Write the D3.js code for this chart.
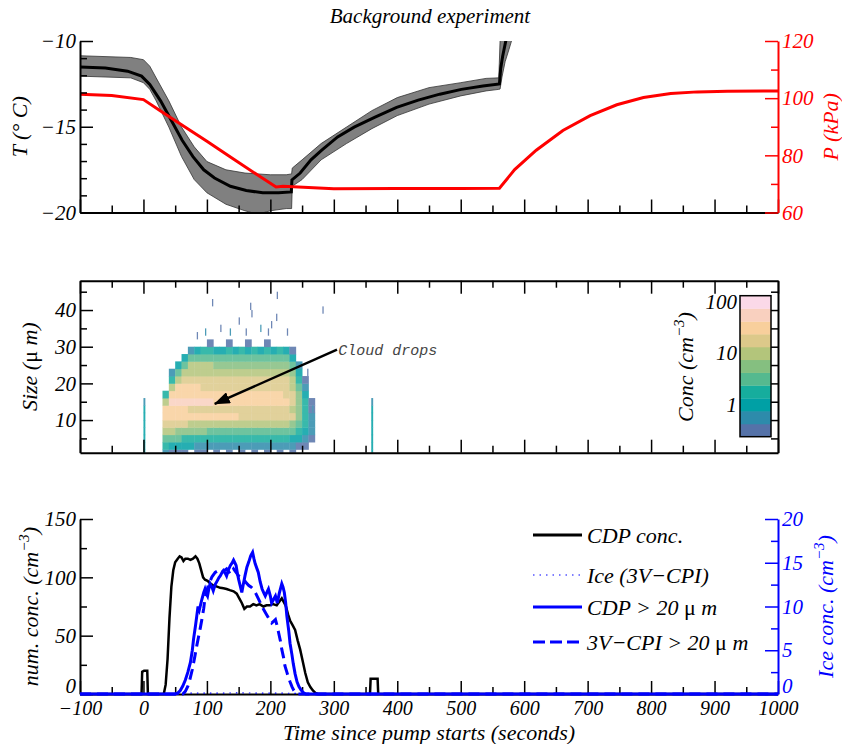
<!DOCTYPE html>
<meta charset="utf-8">
<style>
    body { margin: 0; background: #fff; }
    svg text { font-family: "Liberation Serif", "Times New Roman", serif; font-style: italic; }
    .mono { font-family: "Liberation Mono", "DejaVu Sans Mono", monospace; }
</style>
<svg width="842" height="744"></svg>
<script src="https://cdn.jsdelivr.net/npm/d3@7"></script>
<script>

    // ---- top panel: temperature (mean and spread) and pressure
    var tTime = [-100, -60, -25, -3, 10, 27, 44, 61, 78, 95, 112, 137, 162, 188, 213, 233, 234, 247, 264, 281, 306, 332, 365, 399, 433, 467, 501, 535, 561, 563, 566, 571, 578];
    var tMean = [-11.51, -11.57, -11.76, -12.05, -12.53, -13.49, -14.64, -15.79, -16.74, -17.51, -17.99, -18.47, -18.72, -18.85, -18.85, -18.8, -18.1, -17.7, -16.93, -16.36, -15.59, -15.02, -14.44, -13.87, -13.45, -13.1, -12.82, -12.62, -12.5, -11.6, -10.9, -10.0, -9.2];

    var bandTime = [-100, -20, 0, 10, 20, 40, 60, 80, 100, 130, 160, 180, 200, 225, 233.5, 234.5, 250, 280, 320, 360, 400, 450, 500, 540, 560, 562, 565, 570, 576, 580, 585];
    var bandHigh = [-10.86, -10.96, -11.09, -11.47, -12.15, -13.49, -15.02, -16.17, -17.03, -17.51, -17.7, -17.75, -17.8, -17.8, -17.75, -17.41, -16.93, -15.98, -15.02, -14.06, -13.3, -12.72, -12.43, -12.18, -12.15, -10.0, -9.5, -9.0, -8.5, -8.3, -8.0];
    var bandLow  = [-12.05, -12.15, -12.43, -12.82, -13.49, -15.02, -16.74, -18.08, -18.85, -19.52, -19.9, -20.1, -19.9, -19.77, -19.77, -18.47, -18.08, -16.93, -15.98, -15.11, -14.35, -13.68, -13.2, -12.91, -12.82, -12.8, -12.1, -11.2, -10.5, -10.0, -9.5];

    var pTime = [-100, -50, 0, 27, 60, 100, 140, 180, 209, 220, 300, 400, 500, 561, 585, 619, 661, 704, 746, 788, 831, 873, 920, 1000];
    var pValue = [101.4, 100.9, 99.5, 95.5, 90.7, 84.9, 79.0, 73.1, 68.9, 69.2, 68.3, 68.4, 68.4, 68.5, 75.0, 81.8, 88.7, 93.9, 97.7, 100.2, 101.6, 102.2, 102.4, 102.5];

    // ---- middle panel: CDP size distribution (cm^-3), 10 s columns x 2 um bins
    var sizeEdges = [1.1, 2, 4, 6, 8, 10, 12, 14, 16, 18, 20, 22, 24, 26, 28, 30, 32];
    var colTime = [30, 40, 50, 60, 70, 80, 90, 100, 110, 120, 130, 140, 150, 160, 170, 180, 190, 200, 210, 220, 230, 240, 250, 260];
    var sizeDist = [
        [0.5, 2, 4, 10, 18, 30, 25, 12, 2, 0, 0, 0, 0, 0, 0, 0],
        [0.3, 1, 3, 8, 18, 35, 28, 55, 25, 8, 2, 0.5, 0, 0, 0, 0],
        [0.3, 1, 3, 6, 15, 35, 25, 60, 35, 25, 12, 4, 1, 0, 0, 0],
        [0.3, 0.8, 2, 5, 14, 35, 25, 55, 35, 25, 18, 10, 4, 1, 0, 0],
        [0, 0.8, 2, 5, 12, 32, 22, 55, 32, 25, 18, 12, 8, 2.5, 0.6, 0],
        [0.3, 0.6, 2, 5, 12, 30, 20, 50, 30, 24, 18, 12, 8, 3, 1.2, 0],
        [0.3, 0.6, 2, 5, 12, 30, 20, 45, 30, 22, 17, 12, 8, 3, 1.5, 0],
        [0, 0.5, 2, 4, 10, 28, 20, 42, 28, 22, 16, 11, 8, 3, 1.5, 0.3],
        [0.3, 0.5, 1.5, 4, 10, 26, 18, 38, 28, 20, 16, 11, 7, 3, 1.2, 0],
        [0, 0.5, 1.5, 4, 9, 25, 18, 35, 26, 20, 15, 11, 7, 3, 1.2, 0],
        [0.3, 0.5, 1.5, 3.5, 9, 24, 17, 33, 26, 20, 15, 10, 7, 3, 1.5, 0.3],
        [0, 0.5, 1.5, 3.5, 9, 24, 17, 32, 25, 20, 15, 10, 7, 3, 1.2, 0],
        [0.3, 0.5, 1.5, 3.5, 9, 23, 17, 30, 25, 19, 15, 10, 7, 3, 1.5, 0],
        [0, 0.5, 1.5, 3, 8, 22, 16, 30, 24, 19, 14, 10, 7, 3, 1.2, 0.3],
        [0.3, 0.5, 1.5, 3, 8, 22, 16, 30, 25, 20, 15, 10, 7, 3, 1.5, 0],
        [0, 0.5, 1.5, 3, 8, 22, 16, 30, 25, 20, 15, 11, 7, 3, 1.2, 0],
        [0.3, 0.5, 1.5, 3, 8, 22, 16, 28, 24, 20, 15, 11, 7, 3, 1.5, 0.3],
        [0, 0.5, 1.5, 3, 8, 22, 16, 28, 24, 20, 15, 11, 7, 3, 1.2, 0],
        [0.3, 0.5, 1.5, 3, 8, 22, 16, 28, 25, 20, 16, 11, 7, 3, 1.5, 0],
        [0, 0.5, 1.5, 3, 8, 20, 15, 26, 22, 18, 14, 10, 6, 2.5, 1, 0],
        [0.3, 0.5, 1, 2.5, 6, 14, 10, 16, 14, 11, 8, 5, 3, 1, 0.4, 0],
        [0, 0.4, 0.8, 1.5, 3, 6, 5, 7, 5, 4, 2, 1, 0.5, 0, 0, 0],
        [0, 0.3, 0.6, 1, 1.5, 2, 1.5, 2, 1, 0.6, 0.4, 0, 0, 0, 0, 0],
        [0, 0, 0.4, 0.5, 0.6, 0.5, 0.4, 0.3, 0, 0, 0, 0, 0, 0, 0, 0]
    ];
    // short bursts at the two blips (3 s wide), bins from the bottom
    var blipTime = [0, 359];
    var blipDist = [0.8, 1, 1, 1, 1, 0.8, 0.8, 0.5];
    // isolated single counts (2 s x 2 um)
    var sparseTime = [84, 97, 108, 121, 136, 150, 161, 168, 170, 184, 196, 201, 209, 210, 226, 282, 258, 266];
    var sparseSize = [32, 33, 41, 34, 33, 36, 33, 40, 38, 34, 33, 35, 37, 43, 33, 39, 22, 12];
    var sparseConc = [0.3, 0.5, 0.3, 0.3, 0.5, 0.3, 0.4, 0.3, 0.3, 0.5, 0.3, 0.4, 0.3, 0.3, 0.3, 0.3, 0.4, 0.5];

    var concLevels = [0.237, 0.42, 0.75, 1.33, 2.37, 4.2, 7.5, 13.3, 23.7, 42, 75, 133];
    var concColors = ["#5572a8", "#2d8bab", "#00a0a5", "#16ad9d", "#55b98f", "#85bf80", "#b3c57b", "#dcc98a", "#f8cf9c", "#f9d0bf", "#fbd9e8"];
    var concTicks = [1, 10, 100];

    // ---- bottom panel: number concentrations
    var cdpTime = [-100, -3, -2, 1, 6, 7, 32, 35, 38, 41, 44, 47, 50, 54, 57, 60, 63, 66, 70, 74, 78, 82, 85, 88, 91, 94, 97, 101, 105, 110, 116, 121, 126, 131, 136, 142, 147, 151, 155, 159, 163, 168, 173, 178, 183, 189, 194, 199, 204, 210, 214, 218, 221, 224, 228, 231, 235, 239, 243, 247, 251, 255, 259, 263, 267, 271, 275, 357, 358, 369, 370, 1000];
    var cdpConc = [0, 0, 19, 20, 20, 0, 0, 8, 30, 65, 92, 106, 113, 116, 118, 117, 114, 116, 116, 115, 116, 118, 116, 112, 106, 100, 98, 97, 95, 93, 92, 91, 90.6, 90, 89, 88, 86, 82, 78, 73, 75, 75, 77, 76, 77, 75, 76, 76, 77, 76, 79, 82, 79, 76, 68, 63, 59, 55, 46, 38, 28, 18, 10, 6, 3, 1, 0, 0, 13, 13, 0, 0];

    var cdp20Time = [-100, 50, 54, 58, 62, 66, 70, 74, 77, 79, 82, 84, 86, 88, 90, 92, 95, 97, 99, 101, 103, 105, 108, 110, 113, 116, 119, 121, 124, 126, 129, 131, 134, 137, 140, 142, 144, 146, 148, 150, 153, 155, 157, 160, 163, 166, 169, 172, 174, 176, 179, 181, 184, 187, 190, 192, 195, 197, 200, 202, 205, 208, 211, 214, 218, 220, 222, 224, 226, 229, 231, 234, 236, 239, 242, 245, 248, 252, 256, 1000];
    var cdp20Conc = [0, 0, 0.1, 0.4, 0.9, 1.6, 2.5, 3.6, 5, 6.3, 7.8, 8.9, 10, 9.6, 10.2, 10.8, 11.6, 12, 11.5, 11.2, 12, 12.6, 12.2, 11.8, 12.5, 12.9, 13.3, 13.5, 13.9, 14.1, 13.8, 13.5, 14.2, 14.7, 15.0, 15.3, 15.0, 14.7, 13.8, 13.1, 12.2, 11.6, 12.4, 13.5, 14.5, 15.1, 15.8, 16.2, 15.5, 14.9, 14.3, 13.9, 12.8, 12, 11.5, 11.2, 11.7, 12, 11.2, 10.4, 10.8, 11.2, 10.4, 11.5, 12.6, 12.2, 11.6, 10.5, 8.9, 7.2, 5.8, 4.5, 3.5, 2.3, 1.4, 0.84, 0.5, 0.15, 0, 0];

    var cpi20Time = [-100, 62, 66, 70, 73, 77, 81, 84, 87, 90, 92, 95, 97, 100, 102, 105, 108, 113, 118, 123, 127, 131, 134, 137, 142, 146, 150, 154, 158, 162, 166, 170, 173, 177, 181, 185, 189, 193, 197, 200, 202, 205, 208, 211, 213, 216, 218, 221, 223, 226, 228, 231, 234, 237, 240, 244, 1000];
    var cpi20Conc = [0, 0, 0.3, 0.9, 1.6, 2.8, 4.3, 5.5, 6.6, 7.7, 8.5, 9.8, 11, 11.8, 12.4, 12.9, 13.4, 13.9, 14.1, 13.9, 14.1, 14.3, 14.0, 13.7, 14.3, 13.9, 13.5, 13.3, 13.1, 12.7, 12.4, 12.2, 12.0, 11.5, 10.9, 10.3, 9.7, 9.2, 8.7, 8.3, 8.1, 8.3, 8.5, 7.7, 7.0, 6.0, 5.1, 4.1, 3.2, 2.5, 2.0, 1.4, 0.84, 0.4, 0.1, 0, 0];

    var iceTime = [-100, 60, 65, 100, 150, 200, 240, 248, 1000];
    var iceConc = [0, 0, 0.1, 0.1, 0.12, 0.1, 0.08, 0, 0];

    var legendLabels = ["CDP conc.", "Ice (3V\u2212CPI)", "CDP > 20 ", "3V\u2212CPI > 20 "];

    var timeMajor = d3.range(-100, 1001, 100),
        timeMinor = d3.range(-50, 1000, 100);

    // ---------------------------------------------------------------
    var svg = d3.select("svg"),
        left = 80, right = 778,
        top1 = 41, bot1 = 212.5,
        top2 = 280.7, bot2 = 452.7,
        top3 = 519, bot3 = 694;

    var x = d3.scaleLinear().domain([-100, 1000]).range([left, right]);
    var yT = d3.scaleLinear().domain([-20, -10]).range([bot1, top1]),
        yP = d3.scaleLinear().domain([60, 120]).range([bot1, top1]),
        yS = d3.scaleLinear().domain([1.1, 48]).range([bot2, top2]),
        yN = d3.scaleLinear().domain([0, 150]).range([bot3, top3]),
        yI = d3.scaleLinear().domain([0, 20]).range([bot3, top3]),
        yC = d3.scaleLog().domain([concLevels[0], concLevels[concLevels.length - 1]]).range([436.7, 295.7]);

    var colour = d3.scaleThreshold().domain(concLevels.slice(1, -1)).range(concColors);

    var defs = svg.append("defs");
    function clip(id, y0, y1) {
        defs.append("clipPath").attr("id", id).append("rect")
            .attr("x", left).attr("y", y0).attr("width", right - left).attr("height", y1 - y0);
        return "url(#" + id + ")";
    }
    defs.append("marker").attr("id", "head")
        .attr("markerUnits", "userSpaceOnUse")
        .attr("markerWidth", 16).attr("markerHeight", 12)
        .attr("refX", 15).attr("refY", 6).attr("orient", "auto")
        .append("path").attr("d", "M0,0L16,6L0,12z").attr("fill", "#000");

    // major + minor ticks pointing inward, labels outside
    function drawAxis(tr, gen, scale, major, minor, fmt, color, pad, fs) {
        var g = svg.append("g").attr("transform", tr);
        var gm = g.append("g").call(gen(scale).tickValues(minor).tickSizeInner(-7).tickSizeOuter(0).tickFormat(""));
        gm.select(".domain").remove();
        g.append("g").call(gen(scale).tickValues(major).tickSizeInner(-13).tickSizeOuter(0).tickPadding(pad || 4).tickFormat(fmt));
        g.selectAll("line").attr("stroke", color).attr("stroke-width", 1.5);
        g.selectAll(".domain").attr("stroke", color).attr("stroke-width", 2);
        g.selectAll("text").attr("fill", color).style("font-size", (fs || 21) + "px");
        return g;
    }
    var none = function () { return ""; },
        num = d3.format("d");

    function label(txt, xx, yy, rot, color, size) {
        return svg.append("text")
            .attr("transform", "translate(" + xx + "," + yy + ")" + (rot ? " rotate(-90)" : ""))
            .attr("text-anchor", "middle")
            .attr("fill", color || "#000")
            .style("font-size", (size || 22) + "px")
            .text(txt);
    }
    function sup(t, s) {
        t.append("tspan").attr("dy", -9).style("font-size", "15px").text(s);
        t.append("tspan").attr("dy", 9).text(")");
    }

    // ---- title
    label("Background experiment", 430, 23, false, "#000", 21);

    // ---- top panel
    var p1 = svg.append("g").attr("clip-path", clip("c1", top1, bot1));
    p1.append("path")
        .datum(bandTime.map(function (t, i) { return {t: t, lo: bandLow[i], hi: bandHigh[i]}; }))
        .attr("d", d3.area().x(function (d) { return x(d.t); })
            .y0(function (d) { return yT(d.lo); }).y1(function (d) { return yT(d.hi); }))
        .attr("fill", "#808080").attr("stroke", "#333").attr("stroke-width", 0.8);
    p1.append("path")
        .datum(tTime.map(function (t, i) { return [t, tMean[i]]; }))
        .attr("d", d3.line().x(function (d) { return x(d[0]); }).y(function (d) { return yT(d[1]); }))
        .attr("fill", "none").attr("stroke", "#000").attr("stroke-width", 3);
    p1.append("path")
        .datum(pTime.map(function (t, i) { return [t, pValue[i]]; }))
        .attr("d", d3.line().x(function (d) { return x(d[0]); }).y(function (d) { return yP(d[1]); }))
        .attr("fill", "none").attr("stroke", "#ff0000").attr("stroke-width", 3);

    drawAxis("translate(0," + bot1 + ")", d3.axisBottom, x, timeMajor, timeMinor, none, "#000");
    drawAxis("translate(" + left + ",0)", d3.axisLeft, yT, [-20, -15, -10], [-19, -18, -17, -16, -14, -13, -12, -11], num, "#000");
    drawAxis("translate(" + right + ",0)", d3.axisRight, yP, [60, 80, 100, 120], [70, 90, 110], num, "#ff0000");
    label("T (\u00b0 C)", 27, (top1 + bot1) / 2, true);
    label("P (kPa)", 838, (top1 + bot1) / 2, true, "#ff0000");

    // ---- middle panel
    var p2 = svg.append("g").attr("clip-path", clip("c2", top2, bot2)).attr("opacity", 0.85);
    colTime.forEach(function (t0, i) {
        sizeDist[i].forEach(function (v, j) {
            if (v <= 0) return;
            p2.append("rect")
                .attr("x", x(t0)).attr("width", x(t0 + 10) - x(t0) + 0.4)
                .attr("y", yS(sizeEdges[j + 1])).attr("height", yS(sizeEdges[j]) - yS(sizeEdges[j + 1]) + 0.4)
                .attr("fill", colour(v));
        });
    });
    blipTime.forEach(function (t0) {
        blipDist.forEach(function (v, j) {
            p2.append("rect")
                .attr("x", x(t0)).attr("width", x(t0 + 3) - x(t0))
                .attr("y", yS(sizeEdges[j + 1])).attr("height", yS(sizeEdges[j]) - yS(sizeEdges[j + 1]) + 0.4)
                .attr("fill", colour(v));
        });
    });
    sparseTime.forEach(function (t0, i) {
        p2.append("rect")
            .attr("x", x(t0)).attr("width", x(t0 + 2) - x(t0))
            .attr("y", yS(sparseSize[i] + 2)).attr("height", yS(sparseSize[i]) - yS(sparseSize[i] + 2))
            .attr("fill", colour(sparseConc[i]));
    });

    // annotation
    svg.append("line")
        .attr("x1", x(305)).attr("y1", yS(29.2))
        .attr("x2", x(112.4)).attr("y2", yS(14.4))
        .attr("stroke", "#000").attr("stroke-width", 2.5)
        .attr("marker-end", "url(#head)");
    svg.append("text").attr("class", "mono")
        .attr("x", x(307)).attr("y", yS(29.2) + 5)
        .style("font-size", "15px").attr("fill", "#444")
        .text("Cloud drops");

    drawAxis("translate(0," + bot2 + ")", d3.axisBottom, x, timeMajor, timeMinor, none, "#000");
    drawAxis("translate(0," + top2 + ")", d3.axisTop, x, timeMajor, timeMinor, none, "#000");
    drawAxis("translate(" + left + ",0)", d3.axisLeft, yS, [10, 20, 30, 40], [5, 15, 25, 35, 45], num, "#000");
    drawAxis("translate(" + right + ",0)", d3.axisRight, yS, [10, 20, 30, 40], [5, 15, 25, 35, 45], none, "#000");
    var sl = label("Size (", 37, (top2 + bot2) / 2, true);
    sl.append("tspan").style("font-style", "normal").text("\u03bc");
    sl.append("tspan").text(" m)");

    // colour bar
    var cb = svg.append("g");
    concColors.forEach(function (col, i) {
        cb.append("rect")
            .attr("x", 740).attr("width", 31)
            .attr("y", yC(concLevels[i + 1])).attr("height", yC(concLevels[i]) - yC(concLevels[i + 1]) + 0.3)
            .attr("fill", col);
    });
    cb.append("rect").attr("x", 740).attr("width", 31)
        .attr("y", yC.range()[1]).attr("height", yC.range()[0] - yC.range()[1])
        .attr("fill", "none").attr("stroke", "#000").attr("stroke-width", 1.5);
    cb.selectAll(".ct").data(concTicks).enter().append("text")
        .attr("x", 737).attr("y", function (d) { return yC(d) + 7; })
        .attr("text-anchor", "end").style("font-size", "21px")
        .text(function (d) { return d; });
    sup(label("Conc (cm", 693, 367, true), "\u22123");

    // ---- bottom panel
    drawAxis("translate(0," + bot3 + ")", d3.axisBottom, x, timeMajor, timeMinor, num, "#000", 7, 20);
    var axN = drawAxis("translate(" + left + ",0)", d3.axisLeft, yN, [0, 50, 100, 150], [25, 75, 125], num, "#000");
    var axI = drawAxis("translate(" + right + ",0)", d3.axisRight, yI, [0, 5, 10, 15, 20], [2.5, 7.5, 12.5, 17.5], num, "#0000ff");
    // lift the zero labels a little so they sit clear of the corner time labels
    [axN, axI].forEach(function (a) {
        a.selectAll(".tick text").filter(function (d) { return d === 0; }).attr("dy", "-0.05em");
    });

    var p3 = svg.append("g").attr("clip-path", clip("c3", top3 - 4, bot3 + 4));
    function series(tArr, vArr, scale, color, w, dash) {
        p3.append("path")
            .datum(tArr.map(function (t, i) { return [t, vArr[i]]; }))
            .attr("d", d3.line().x(function (d) { return x(d[0]); }).y(function (d) { return scale(d[1]); }))
            .attr("fill", "none").attr("stroke", color).attr("stroke-width", w)
            .attr("stroke-dasharray", dash);
    }
    series(cdpTime, cdpConc, yN, "#000", 2.5, null);
    series(iceTime, iceConc, yI, "#0000ff", 1.2, "1.5,5");
    series(cpi20Time, cpi20Conc, yI, "#0000ff", 3, "11,6");
    series(cdp20Time, cdp20Conc, yI, "#0000ff", 3, null);

    sup(label("num. conc. (cm", 38, (top3 + bot3) / 2, true), "\u22123");
    sup(label("Ice conc. (cm", 833, (top3 + bot3) / 2, true, "#0000ff"), "\u22123");
    label("Time since pump starts (seconds)", 429, 740);

    // legend
    var legendY = [535, 575, 607, 642],
        legendStroke = ["#000", "#0000ff", "#0000ff", "#0000ff"],
        legendWidth = [3, 1.2, 3, 3],
        legendDash = [null, "1.5,5", null, "12,5"];
    legendLabels.forEach(function (lab, i) {
        svg.append("line")
            .attr("x1", 533).attr("x2", 582).attr("y1", legendY[i]).attr("y2", legendY[i])
            .attr("stroke", legendStroke[i]).attr("stroke-width", legendWidth[i])
            .attr("stroke-dasharray", legendDash[i]);
        var t = svg.append("text").attr("x", 587).attr("y", legendY[i] + 8)
            .style("font-size", "22px").text(lab);
        if (i >= 2) {
            t.append("tspan").style("font-style", "normal").text("\u03bc");
            t.append("tspan").text(" m");
        }
    });

</script>
